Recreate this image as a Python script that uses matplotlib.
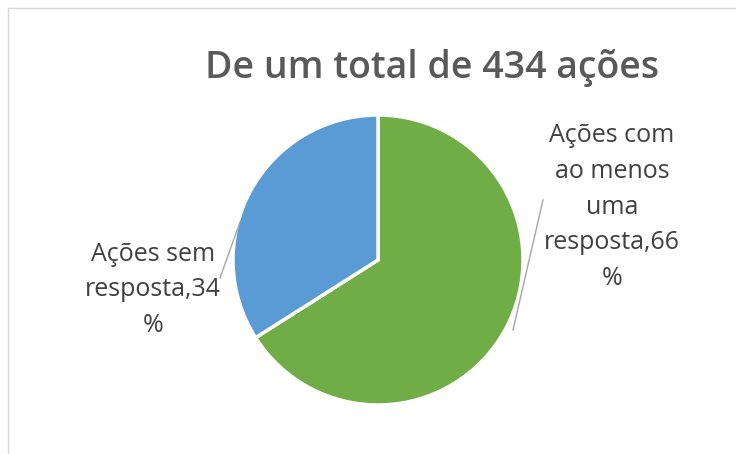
import matplotlib.pyplot as plt
from matplotlib.lines import Line2D

# dados do grafico
categorias = ['Ações com\nao menos\numa\nresposta,66\n%', 'Ações sem\nresposta,34\n%']
valores = [66, 34]
cores = ['#70AD47', '#5B9BD5']
titulo = 'De um total de 434 ações'

plt.rcParams['font.family'] = ['Open Sans', 'DejaVu Sans']

fig = plt.figure(figsize=(7.36, 4.54), dpi=100)
ax = fig.add_axes([0, 0, 1, 1])

# moldura do grafico (so topo e esquerda aparecem)
fig.add_artist(Line2D([8 / 736, 1], [1 - 8 / 454, 1 - 8 / 454], color='#d9d9d9', lw=1))
fig.add_artist(Line2D([8 / 736, 8 / 736], [0, 1 - 8 / 454], color='#d9d9d9', lw=1))

ax.pie(valores, colors=cores, startangle=90, counterclock=False,
       center=(378, 194), radius=145,
       wedgeprops=dict(edgecolor='white', linewidth=2.5), frame=True)
ax.set_xlim(0, 736)
ax.set_ylim(0, 454)
ax.set_aspect('equal')
ax.axis('off')

ax.text(432, 386, titulo, ha='center', va='center', fontsize=27,
        fontweight='semibold', color='#595959')

# rotulos
ax.text(612, 247, categorias[0], ha='center', va='center', fontsize=18,
        color='#404040', linespacing=1.57)
ax.text(153, 164, categorias[1], ha='center', va='center', fontsize=18,
        color='#404040', linespacing=1.57)

# linhas de chamada
ax.plot([543, 513], [254, 124], color='#a6a6a6', lw=1)
ax.plot([220, 240], [176, 232], color='#a6a6a6', lw=1)

fig.savefig('out.png', dpi=100)
